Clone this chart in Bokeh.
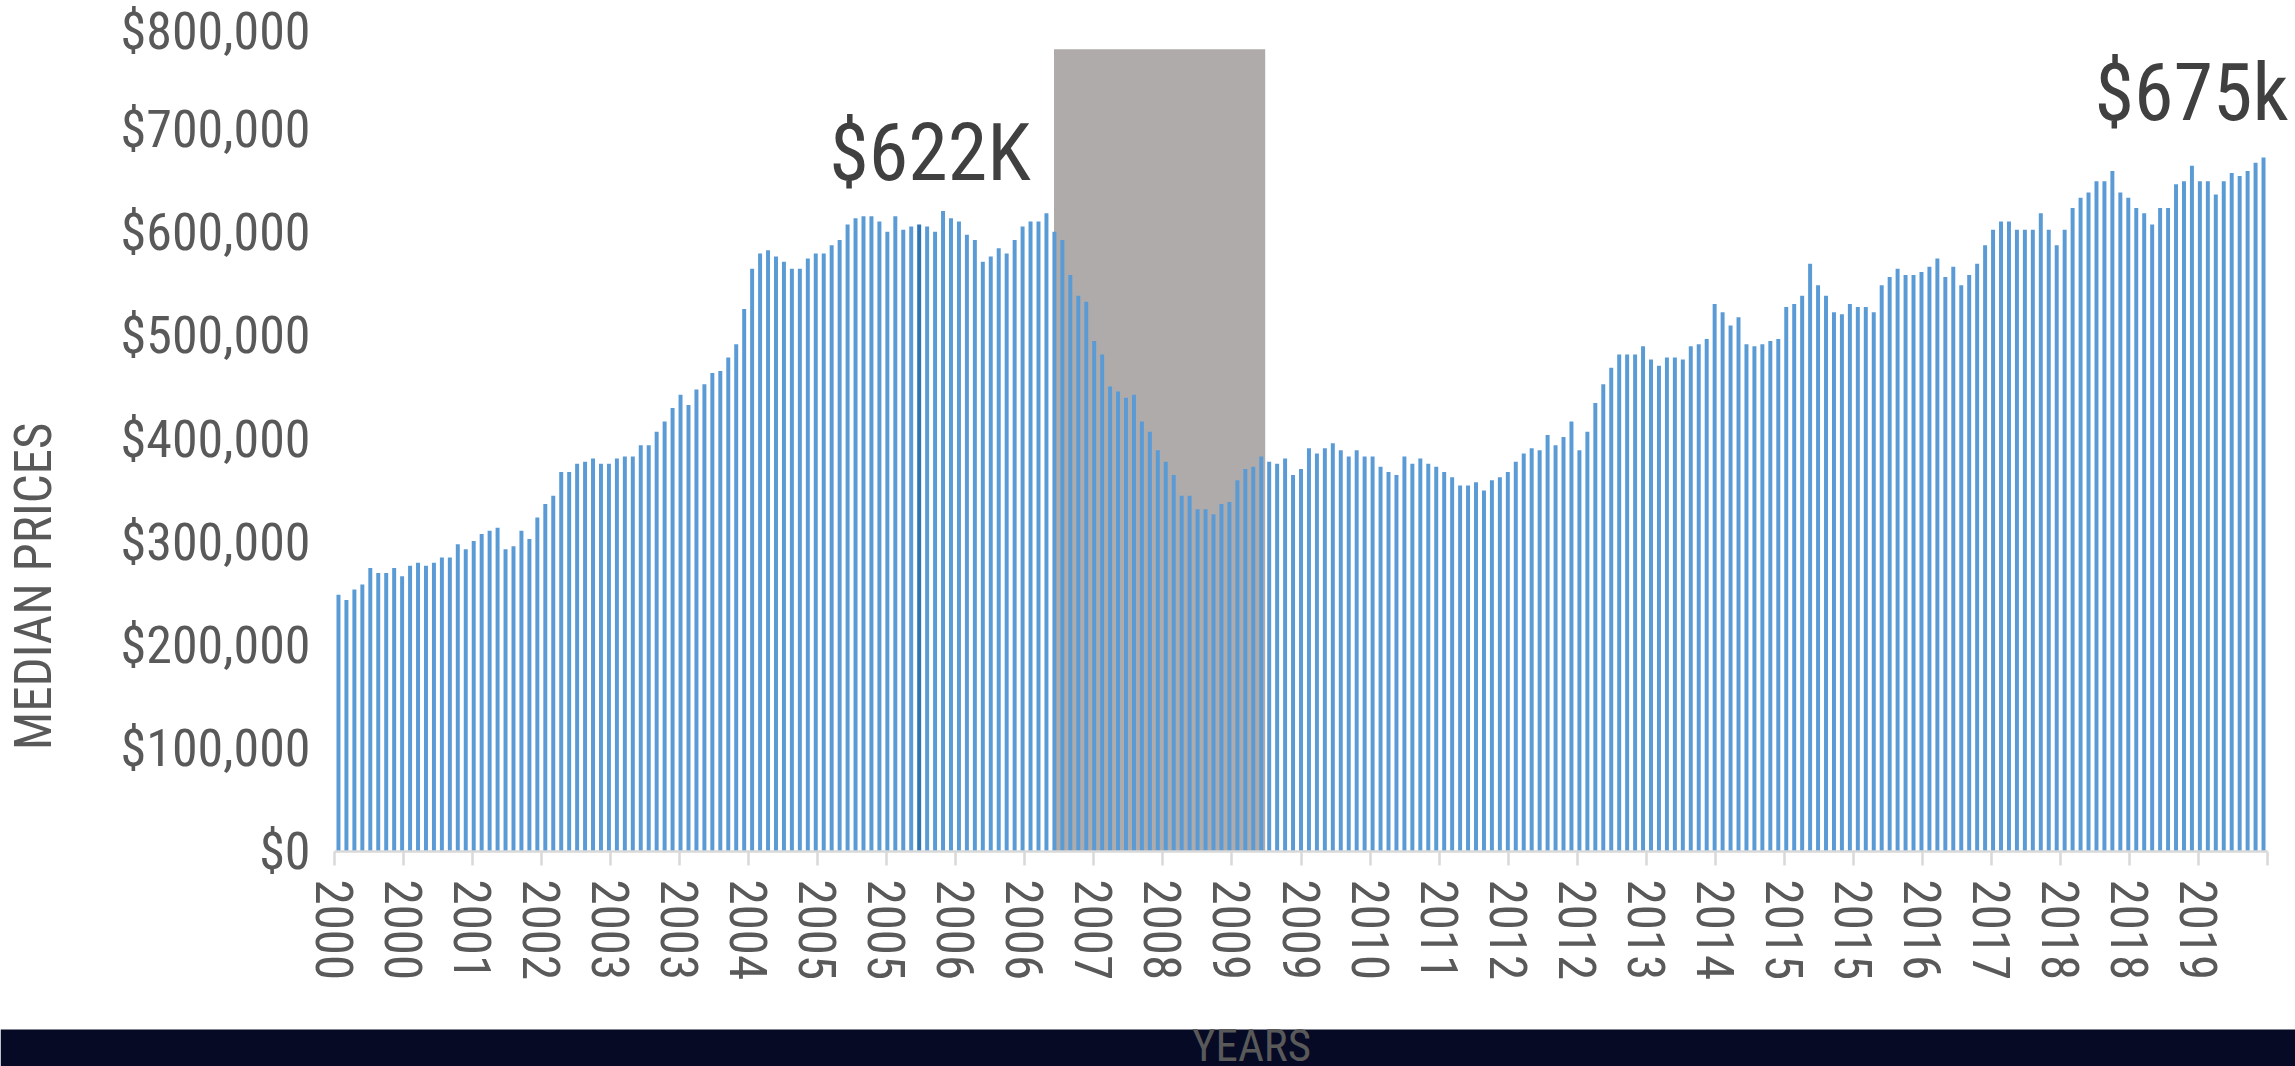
import math
from bokeh.plotting import figure
from bokeh.models import Range1d, FixedTicker, NumeralTickFormatter, BoxAnnotation, Label, ColumnDataSource
from bokeh.embed import file_html
from bokeh.resources import INLINE

# ---------------- data (monthly median prices) ----------------
prices = [
    249, 244, 254, 259, 275, 270, 270, 275, 267, 277, 280, 277, 280, 285, 285, 298, 293, 301, 308, 311,
    314, 293, 296, 311, 303, 324, 337, 345, 368, 368, 376, 378, 381, 376, 376, 381, 383, 383, 394, 394,
    407, 417, 430, 443, 433, 448, 453, 464, 466, 479, 492, 526, 565, 580, 583, 577, 572, 565, 565, 575,
    580, 580, 588, 593, 608, 614, 616, 616, 611, 601, 616, 603, 606, 608, 606, 601, 621, 614, 611, 598,
    593, 572, 577, 585, 580, 593, 606, 611, 611, 619, 601, 593, 559, 539, 533, 495, 482, 451, 446, 440,
    443, 417, 407, 389, 378, 365, 345, 345, 332, 332, 327, 337, 339, 360, 371, 373, 383, 378, 376, 381,
    365, 371, 391, 386, 391, 396, 389, 383, 389, 383, 383, 373, 368, 365, 383, 376, 381, 376, 373, 368,
    363, 355, 355, 358, 350, 360, 363, 368, 378, 386, 391, 389, 404, 394, 402, 417, 389, 407, 435, 453,
    469, 482, 482, 482, 490, 477, 471, 479, 479, 477, 490, 492, 497, 531, 523, 510, 518, 492, 490, 492,
    495, 497, 528, 531, 539, 570, 549, 539, 523, 521, 531, 528, 528, 523, 549, 557, 565, 559, 559, 562,
    567, 575, 557, 567, 549, 559, 570, 588, 603, 611, 611, 603, 603, 603, 619, 603, 588, 603, 624, 634,
    639, 650, 650, 660, 639, 634, 624, 619, 608, 624, 624, 647, 650, 665, 650, 650, 637, 650, 658, 655,
    660, 668, 673,
]
prices = [v * 1000 for v in prices]

year_labels = ["2000", "2000", "2001", "2002", "2003", "2003", "2004", "2005", "2005", "2006",
               "2006", "2007", "2008", "2009", "2009", "2010", "2011", "2012", "2012", "2013",
               "2014", "2015", "2015", "2016", "2017", "2018", "2018", "2019"]

y_ticks = [0, 100000, 200000, 300000, 400000, 500000, 600000, 700000, 800000]

# recession band, in bar-index units
recession_start = 90.45
recession_end = 117.0
recession_top = 778000

peak_text = "$622K"
latest_text = "$675k"
highlight_bar = 73

# ---------------- styles / layout ----------------
FONT_NAME = "Roboto Condensed, DejaVu Sans Condensed, Roboto"
BAR = "#5B9BD5"
BAR_DARK = "#2E75B6"
TXT = "#595959"
AXIS = "#D9D9D9"
DARK = "#060A24"

W, H = 2295, 1066
AX_LEFT, AX_RIGHT = 334, 2267      # pixel extent of the category axis
Y0_PX, YTOP_PX = 851, 26           # pixel rows of value 0 and of the top tick

n = len(prices)
n_int = len(year_labels)           # number of tick intervals
scale = n_int / n                  # bar index -> axis units

px_x = (AX_RIGHT - AX_LEFT) / n_int
px_y = (Y0_PX - YTOP_PX) / y_ticks[-1]
x_start = -AX_LEFT / px_x
x_end = n_int + (W - AX_RIGHT) / px_x
y_start = -(H - Y0_PX) / px_y
y_end = Y0_PX / px_y


def xd(px):
    return (px - AX_LEFT) / px_x


def yd(px):
    return (Y0_PX - px) / px_y


xs = [(i + 0.5) * scale for i in range(n)]
colors = [BAR_DARK if i == highlight_bar else BAR for i in range(n)]
src = ColumnDataSource(dict(x=xs, top=prices, color=colors))

p = figure(width=W, height=H,
           x_range=Range1d(x_start, x_end), y_range=Range1d(y_start, y_end),
           output_backend="svg", toolbar_location=None, min_border=0,
           background_fill_color="white", border_fill_color="white", outline_line_color=None)
p.xgrid.visible = False
p.ygrid.visible = False

p.add_layout(BoxAnnotation(left=recession_start * scale, right=recession_end * scale,
                           bottom=0, top=recession_top,
                           fill_color="#AFABAA", fill_alpha=1.0, line_color=None, level="underlay"))

p.vbar(x="x", top="top", width=0.5 * scale, color="color", source=src, line_color=None)

# y axis
ya = p.yaxis[0]
ya.fixed_location = 0
ya.ticker = FixedTicker(ticks=y_ticks)
ya.formatter = NumeralTickFormatter(format="$0,0")
ya.axis_line_color = None
ya.major_tick_line_color = None
ya.minor_tick_line_color = None
ya.major_tick_out = 0
ya.major_tick_in = 0
ya.major_label_standoff = 24
ya.major_label_text_font = FONT_NAME
ya.major_label_text_font_size = "52px"
ya.major_label_text_color = TXT

# x axis
xa = p.xaxis[0]
xa.fixed_location = 0
xa.bounds = (0, n_int)
xa.ticker = FixedTicker(ticks=list(range(n_int + 1)))
overrides = {k: lab for k, lab in enumerate(year_labels)}
overrides[n_int] = ""
xa.major_label_overrides = overrides
xa.major_label_orientation = "vertical"
xa.axis_line_color = AXIS
xa.axis_line_width = 2.5
xa.major_tick_line_color = AXIS
xa.major_tick_line_width = 2.5
xa.major_tick_out = 14
xa.major_tick_in = 0
xa.minor_tick_line_color = None
xa.major_label_standoff = 14
xa.major_label_text_font = FONT_NAME
xa.major_label_text_font_size = "51px"
xa.major_label_text_color = TXT

# y title (rotated)
p.add_layout(Label(x=xd(33), y=yd(586), text="MEDIAN PRICES", angle=math.pi / 2,
                   text_align="center", text_baseline="middle",
                   text_font=FONT_NAME, text_font_size="51px", text_color=TXT))

# annotations
first_half = prices[:120]
i_peak = first_half.index(max(first_half))
p.add_layout(Label(x=xs[i_peak], y=prices[i_peak], x_offset=-13, y_offset=58,
                   text=peak_text, text_align="center", text_baseline="alphabetic",
                   text_font=FONT_NAME, text_font_size="80px", text_color="#404040"))
p.add_layout(Label(x=xs[-1], y=prices[-1], x_offset=25, y_offset=64,
                   text=latest_text, text_align="right", text_baseline="alphabetic",
                   text_font=FONT_NAME, text_font_size="80px", text_color="#404040"))

# bottom dark band with the x title
p.add_layout(BoxAnnotation(top=yd(1029), fill_color=DARK, fill_alpha=1.0, line_color=None))
p.add_layout(Label(x=xd(1251), y=yd(1018), text="YEARS", text_align="center",
                   text_baseline="top", text_font=FONT_NAME, text_font_size="45px",
                   text_color=TXT))

open("out.html", "w").write(file_html(p, INLINE))
